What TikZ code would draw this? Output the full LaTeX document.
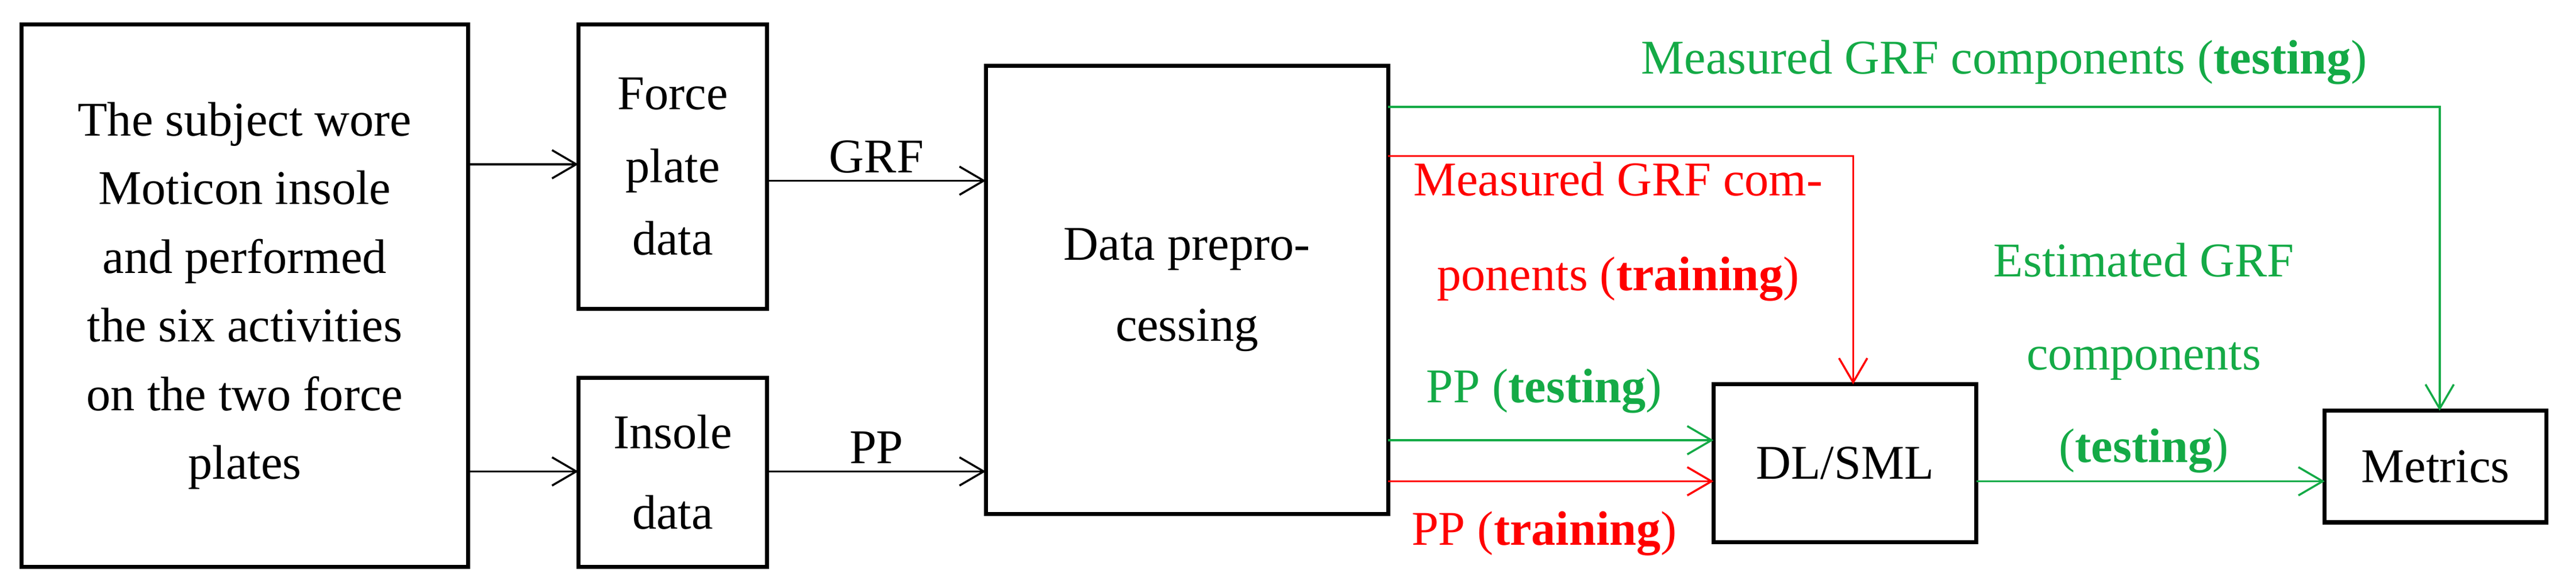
\documentclass[tikz,border=0pt]{standalone}
\usepackage{fontspec}
\setmainfont{Liberation Serif}
\usetikzlibrary{arrows.meta}
\definecolor{gr}{RGB}{20,170,70}
\begin{document}
\begin{tikzpicture}[x=0.02858cm,y=-0.02858cm,
  box/.style={draw,line width=2pt,inner sep=0},
  lab/.style={font=\fontsize{24}{34}\selectfont,align=center},
  conn/.style={line width=1pt,-{Straight Barb[length=12pt,width=14pt]}}]
\useasboundingbox (0,0) rectangle (1568,356);
\draw[box] (13,15) rectangle (285,345) node[midway,lab,inner sep=0] (s) {The subject wore\\Moticon insole\\and performed\\the six activities\\on the two force\\plates};
\draw[box] (352,15) rectangle (467,188) node[midway,lab,font=\fontsize{24}{36}\selectfont] (fp) {Force\\plate\\data};
\draw[box] (352,230) rectangle (467,345) node[midway,lab,font=\fontsize{24}{40}\selectfont] (ins) {Insole\\data};
\draw[box] (600,40) rectangle (845,313) node[midway,lab,font=\fontsize{24}{40}\selectfont] (dp) {Data prepro-\\cessing};
\draw[box] (1043,234) rectangle (1203,330) node[midway,lab] (dl) {DL/SML};
\draw[box] (1415,250) rectangle (1550,318) node[midway,lab] (m) {Metrics};
\draw[conn] (285,100) -- (352,100);
\draw[conn] (285,287) -- (352,287);
\draw[conn] (467,110) -- (600,110) node[midway,above,lab] {GRF};
\draw[conn] (467,287) -- (600,287) node[midway,above,lab] {PP};
\draw[conn,gr] (845,65) -- (1485,65) -- (1485,250);
\node[lab,gr] at (1220,38) {Measured GRF components (\textbf{testing})};
\draw[conn,red] (845,95) -- (1128,95) -- (1128,234);
\node[lab,red,font=\fontsize{24}{47}\selectfont] at (985,141) {Measured GRF com-\\ponents (\textbf{training})};
\draw[conn,gr] (845,268) -- (1043,268);
\node[lab,gr] at (940,238) {PP (\textbf{testing})};
\draw[conn,red] (845,293) -- (1043,293);
\node[lab,red] at (940,325) {PP (\textbf{training})};
\draw[conn,gr] (1203,293) -- (1415,293);
\node[lab,gr,font=\fontsize{24}{46}\selectfont] at (1305,218) {Estimated GRF\\components\\(\textbf{testing})};
\end{tikzpicture}
\end{document}
